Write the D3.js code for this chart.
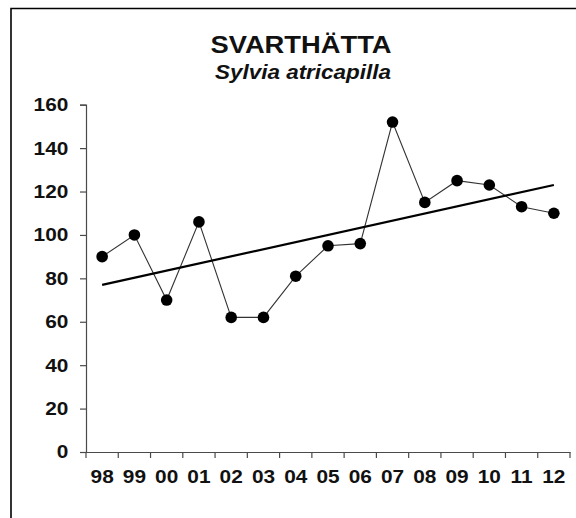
<!DOCTYPE html>
<html>
<head>
<meta charset="utf-8">
<script src="https://cdn.jsdelivr.net/npm/d3@7"></script>
<style>
  html, body { margin: 0; padding: 0; background: #fff; }
  svg text { font-family: "Liberation Sans", Arial, sans-serif; font-weight: bold; fill: #111; }
</style>
</head>
<body>
<div id="chart"></div>
<script>
// values
const years = ["98", "99", "00", "01", "02", "03", "04", "05", "06", "07", "08", "09", "10", "11", "12"];
const counts = [90, 100, 70, 106, 62, 62, 81, 95, 96, 152, 115, 125, 123, 113, 110];
const trendYears = ["98", "12"];
const trendValues = [77, 123];
const yTicks = [0, 20, 40, 60, 80, 100, 120, 140, 160];

const width = 576, height = 518;

const svg = d3.select("#chart").append("svg")
  .attr("width", width)
  .attr("height", height);

// frame (left + top edge only)
svg.append("path")
  .attr("d", "M11,518V8.5H576")
  .attr("fill", "none")
  .attr("stroke", "#000")
  .attr("stroke-width", 1.6);

const x = d3.scaleBand().domain(years).range([86, 570]).padding(0);
const y = d3.scaleLinear().domain([0, 160]).range([452, 104.7]);
const cx = d => x(d) + x.bandwidth() / 2;

// title
svg.append("text")
  .attr("class", "stretch")
  .attr("data-w", 181)
  .attr("x", 301).attr("y", 53.3)
  .attr("text-anchor", "middle")
  .style("font-size", "23px")
  .text("SVARTHÄTTA");

svg.append("text")
  .attr("class", "stretch")
  .attr("data-w", 176)
  .attr("x", 303).attr("y", 79.3)
  .attr("text-anchor", "middle")
  .style("font-size", "19.5px")
  .style("font-style", "italic")
  .text("Sylvia atricapilla");

// y axis
const gy = svg.append("g")
  .attr("transform", "translate(86,0)")
  .call(d3.axisLeft(y).tickValues(yTicks).tickSize(6).tickPadding(11.7));
gy.selectAll("text").style("font-size", "18.6px");

// x axis (labels centred in bands, ticks on band edges)
const gx = svg.append("g")
  .attr("transform", "translate(0,452)")
  .call(d3.axisBottom(x).tickSize(0).tickSizeOuter(0).tickPadding(17.5));
gx.selectAll("text").style("font-size", "18.6px");

gx.selectAll("line.edge")
  .data(years.map(d => x(d)).concat([x.range()[1]]))
  .enter().append("line")
  .attr("class", "edge")
  .attr("x1", d => d).attr("x2", d => d)
  .attr("y1", 0).attr("y2", 6);

svg.selectAll(".domain, .tick line, line.edge")
  .attr("stroke", "#4a4a4a")
  .attr("stroke-width", 1.2);

// series line
const line = d3.line()
  .x((d, i) => cx(years[i]))
  .y(d => y(d));

svg.append("path")
  .datum(counts)
  .attr("d", line)
  .attr("fill", "none")
  .attr("stroke", "#333")
  .attr("stroke-width", 1.1);

// trend line
svg.append("path")
  .datum(trendValues)
  .attr("d", d3.line().x((d, i) => cx(trendYears[i])).y(d => y(d)))
  .attr("fill", "none")
  .attr("stroke", "#000")
  .attr("stroke-width", 2.2);

// markers
svg.selectAll("circle.pt")
  .data(counts)
  .enter().append("circle")
  .attr("class", "pt")
  .attr("cx", (d, i) => cx(years[i]))
  .attr("cy", d => y(d))
  .attr("r", 5.8)
  .attr("fill", "#000");

// the reference text is a little wider than Liberation Sans, stretch it
svg.selectAll("text").each(function() {
  const t = d3.select(this);
  const target = t.attr("data-w") ? +t.attr("data-w") : this.getComputedTextLength() * 1.12;
  t.attr("textLength", target).attr("lengthAdjust", "spacingAndGlyphs");
});
</script>
</body>
</html>
